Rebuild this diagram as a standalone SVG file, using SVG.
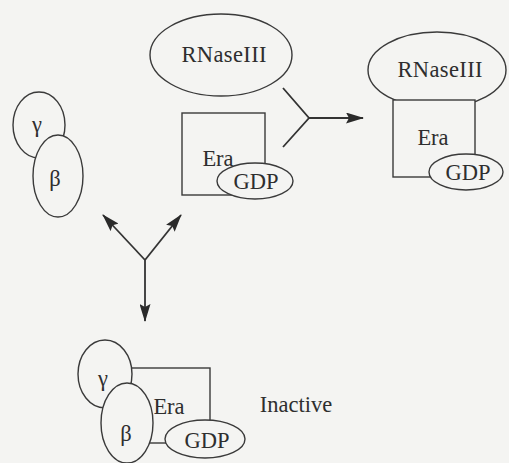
<svg xmlns="http://www.w3.org/2000/svg" width="509" height="463" viewBox="0 0 509 463">
  <style>
    .sh { fill: #f4f4f2; stroke: #3a3a3a; stroke-width: 1.4; }
    .ln { fill: none; stroke: #333; stroke-width: 1.8; }
    .t { font-family: "Liberation Serif", "DejaVu Serif", serif; font-size: 22.5px; fill: #2e2e2e; text-anchor: middle; }
  </style>
  <defs>
    <marker id="ah" viewBox="0 0 18 11" refX="17" refY="5.5" markerWidth="18" markerHeight="11" markerUnits="userSpaceOnUse" orient="auto">
      <path d="M0,0 L18,5.5 L0,11 L3,5.5 Z" fill="#2a2a2a"/>
    </marker>
  </defs>
  <rect width="509" height="463" fill="#f4f4f2"/>

  <!-- free RNase III -->
  <g id="rnase-free">
    <ellipse class="sh" cx="221" cy="55" rx="71" ry="41"/>
    <text class="t" x="224" y="62" textLength="85">RNaseIII</text>
  </g>

  <!-- Era bound to GDP -->
  <g id="era-gdp">
    <rect class="sh" x="182" y="113" width="83" height="82"/>
    <text class="t" x="218" y="166">Era</text>
    <ellipse class="sh" cx="255" cy="181" rx="38" ry="18"/>
    <text class="t" x="256" y="189">GDP</text>
  </g>

  <!-- gamma/beta pair -->
  <g id="gamma-beta">
    <ellipse class="sh" cx="39" cy="125" rx="26" ry="33"/>
    <text class="t" x="37" y="132">γ</text>
    <ellipse class="sh" cx="58" cy="176" rx="25" ry="41"/>
    <text class="t" x="55" y="186">β</text>
  </g>

  <!-- RNase III / Era / GDP complex -->
  <g id="rnase-era-complex">
    <ellipse class="sh" cx="437" cy="70" rx="69" ry="38"/>
    <text class="t" x="440" y="77" textLength="85">RNaseIII</text>
    <rect class="sh" x="393" y="100" width="82" height="77"/>
    <text class="t" x="433" y="145">Era</text>
    <ellipse class="sh" cx="466" cy="172" rx="37" ry="18"/>
    <text class="t" x="468" y="180">GDP</text>
  </g>

  <!-- inactive gamma/beta/Era complex -->
  <g id="inactive-complex">
    <rect class="sh" x="131" y="368" width="79" height="75"/>
    <ellipse class="sh" cx="205" cy="439" rx="40" ry="19"/>
    <text class="t" x="207" y="448">GDP</text>
    <ellipse class="sh" cx="105" cy="374" rx="27" ry="34"/>
    <text class="t" x="103" y="386">γ</text>
    <ellipse class="sh" cx="127" cy="423" rx="26" ry="40"/>
    <text class="t" x="126" y="441">β</text>
    <text class="t" x="169" y="414">Era</text>
  </g>

  <g id="inactive-label">
    <text class="t" x="296" y="412">Inactive</text>
  </g>

  <!-- reaction connectors -->
  <g id="connectors">
    <path class="ln" d="M283,88 L309,118 L283,147"/>
    <path class="ln" d="M309,118 L363,118" marker-end="url(#ah)"/>
    <path class="ln" d="M145,260 L103,215" marker-end="url(#ah)"/>
    <path class="ln" d="M145,260 L181,215" marker-end="url(#ah)"/>
    <path class="ln" d="M145,260 L145,321" marker-end="url(#ah)"/>
  </g>
</svg>
